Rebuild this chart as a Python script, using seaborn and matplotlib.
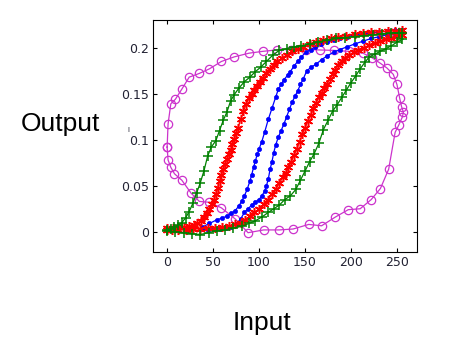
import matplotlib
matplotlib.use('Agg')
import matplotlib.pyplot as plt
import seaborn as sb

# Hysteresis loops (input 0..255 -> output)

# magenta circles, one closed loop
mag_x = [0, 1, 4, 9, 16, 24, 35, 46, 59, 73, 89, 104, 119, 135, 151, 166, 182, 198, 213, 223,
         232, 239, 246, 250, 253, 255, 257, 256, 252, 248, 241, 232, 222, 210, 197, 183, 168, 154, 137, 122,
         105, 88, 74, 59, 46, 35, 26, 16, 8, 4, 1, 0]
mag_y = [0.092, 0.117, 0.139, 0.144, 0.155, 0.168, 0.172, 0.177, 0.185, 0.190, 0.194, 0.196, 0.1975, 0.198, 0.198, 0.1975, 0.197, 0.196, 0.194, 0.189,
         0.183, 0.178, 0.171, 0.160, 0.145, 0.136, 0.130, 0.125, 0.116, 0.108, 0.068, 0.047, 0.035, 0.025, 0.024, 0.016, 0.0065, 0.008, 0.003, 0.002,
         0.002, -0.001, 0.014, 0.026, 0.032, 0.033, 0.042, 0.056, 0.063, 0.070, 0.078, 0.092]

# blue dots, rising and falling branch
blue_up_x = [38, 46, 54, 60, 65, 70, 74, 78, 81, 84, 87, 90, 92, 94, 96, 98, 100, 103, 106, 110,
             114, 118, 121, 124, 127, 131, 134, 138, 142, 146, 151, 156, 161, 167, 174, 181, 188, 196, 204, 213,
             222, 231, 240, 248, 255]
blue_up_y = [0.005, 0.009, 0.013, 0.015, 0.017, 0.020, 0.023, 0.028, 0.033, 0.039, 0.046, 0.055, 0.062, 0.070, 0.077, 0.084, 0.090, 0.098, 0.108, 0.122,
             0.134, 0.146, 0.155, 0.160, 0.165, 0.170, 0.174, 0.180, 0.185, 0.190, 0.195, 0.198, 0.201, 0.204, 0.206, 0.208, 0.210, 0.212, 0.214, 0.215,
             0.216, 0.217, 0.218, 0.219, 0.219]
blue_dn_x = [255, 247, 239, 231, 222, 213, 204, 196, 188, 181, 174, 168, 162, 157, 152, 148, 145, 142, 139, 136,
             133, 130, 127, 124, 121, 118, 116, 114, 112, 110, 108, 106, 103, 100, 96, 92, 88, 84, 80, 75,
             70, 64, 57, 50, 44, 38]
blue_dn_y = [0.218, 0.216, 0.214, 0.212, 0.210, 0.207, 0.204, 0.201, 0.198, 0.195, 0.191, 0.187, 0.182, 0.179, 0.175, 0.166, 0.160, 0.153, 0.147, 0.141,
             0.133, 0.125, 0.117, 0.110, 0.103, 0.094, 0.086, 0.076, 0.068, 0.057, 0.050, 0.044, 0.039, 0.035, 0.032, 0.029, 0.025, 0.021, 0.014, 0.008,
             0.005, 0.004, 0.003, 0.003, 0.002, 0.003]

# red stars
red_up_x = [0, 6, 12, 18, 24, 29, 33, 37, 40, 43, 46, 49, 51, 53, 55, 57, 59, 61, 63, 65,
            67, 69, 71, 73, 75, 77, 80, 83, 86, 89, 92, 95, 98, 101, 104, 108, 112, 116, 120, 125,
            130, 136, 142, 148, 155, 162, 170, 178, 186, 195, 204, 213, 222, 231, 240, 248, 255]
red_up_y = [0.004, 0.004, 0.005, 0.005, 0.006, 0.007, 0.009, 0.012, 0.016, 0.020, 0.025, 0.030, 0.035, 0.041, 0.048, 0.055, 0.062, 0.068, 0.074, 0.079,
            0.084, 0.089, 0.095, 0.101, 0.107, 0.113, 0.122, 0.131, 0.139, 0.145, 0.150, 0.154, 0.158, 0.163, 0.167, 0.172, 0.177, 0.181, 0.185, 0.189,
            0.192, 0.196, 0.199, 0.201, 0.204, 0.206, 0.208, 0.210, 0.212, 0.213, 0.215, 0.216, 0.217, 0.217, 0.218, 0.218, 0.219]
red_dn_x = [255, 250, 244, 238, 232, 226, 220, 214, 208, 203, 198, 194, 190, 186, 183, 180, 177, 174, 171, 168,
            165, 162, 159, 156, 153, 150, 147, 144, 141, 138, 135, 132, 129, 126, 122, 118, 114, 110, 105, 100,
            95, 90, 85, 80, 74, 67, 60, 52, 44, 36, 28, 20, 12, 5, 0]
red_dn_y = [0.214, 0.213, 0.211, 0.209, 0.207, 0.205, 0.203, 0.200, 0.198, 0.195, 0.192, 0.189, 0.185, 0.181, 0.176, 0.171, 0.166, 0.161, 0.156, 0.151,
            0.146, 0.140, 0.134, 0.127, 0.120, 0.113, 0.106, 0.098, 0.090, 0.083, 0.076, 0.070, 0.064, 0.059, 0.053, 0.046, 0.041, 0.035, 0.030, 0.025,
            0.021, 0.017, 0.013, 0.010, 0.008, 0.006, 0.005, 0.004, 0.004, 0.003, 0.003, 0.002, 0.002, 0.002, 0.002]

# green plus signs
green_up_x = [0, 4, 8, 12, 16, 20, 24, 28, 32, 36, 40, 44, 48, 53, 57, 61, 65, 69, 73, 78,
              84, 90, 96, 102, 108, 115, 122, 130, 138, 146, 155, 164, 174, 184, 194, 204, 214, 224, 234, 244,
              252, 256]
green_up_y = [0.002, 0.003, 0.005, 0.007, 0.010, 0.015, 0.022, 0.031, 0.042, 0.053, 0.066, 0.082, 0.092, 0.099, 0.110, 0.121, 0.130, 0.142, 0.149, 0.156,
              0.163, 0.168, 0.174, 0.179, 0.185, 0.192, 0.197, 0.199, 0.201, 0.202, 0.204, 0.206, 0.208, 0.210, 0.211, 0.212, 0.213, 0.214, 0.215, 0.216,
              0.216, 0.216]
green_dn_x = [256, 250, 244, 238, 232, 226, 220, 215, 210, 205, 200, 195, 190, 185, 180, 175, 170, 165, 160, 155,
              150, 145, 140, 134, 128, 122, 116, 110, 103, 96, 89, 81, 72, 63, 54, 45, 36, 27, 18, 9,
              0]
green_dn_y = [0.209, 0.206, 0.202, 0.199, 0.196, 0.193, 0.190, 0.184, 0.177, 0.169, 0.162, 0.154, 0.146, 0.138, 0.131, 0.121, 0.111, 0.096, 0.085, 0.076,
              0.066, 0.056, 0.046, 0.039, 0.035, 0.029, 0.025, 0.021, 0.016, 0.012, 0.009, 0.006, 0.004, 0.002, 0.001, -0.001, -0.003, -0.002, -0.001, 0.000,
              0.001]

xticks = [0, 50, 100, 150, 200, 250]
yticks = [0, 0.05, 0.1, 0.15, 0.2]
ytick_labels = ['0', '0.05', '0.1', '0.15', '0.2']

fig = plt.figure(figsize=(4.51, 3.58), dpi=100)
ax = fig.add_axes([0.339, 0.296, 0.586, 0.648])

MAG, BLUE, RED, GREEN = '#cc33cc', '#0000ff', '#ff0000', '#008000'
asterisk = (6, 2, 0)  # line-drawn star like matlab '*'

# magenta loop drawn first, the others on top
sb.lineplot(x=mag_x, y=mag_y, sort=False, estimator=None, ax=ax, color=MAG,
            lw=0.9, marker='o', markersize=6, markerfacecolor='none',
            markeredgecolor=MAG, markeredgewidth=0.9)

for bx, by in [(blue_up_x, blue_up_y), (blue_dn_x, blue_dn_y)]:
    sb.lineplot(x=bx, y=by, sort=False, estimator=None, ax=ax, color=BLUE,
                lw=0.9, marker='o', markersize=3, markeredgecolor=BLUE,
                markeredgewidth=0.5)

for rx, ry in [(red_up_x, red_up_y), (red_dn_x, red_dn_y)]:
    sb.lineplot(x=rx, y=ry, sort=False, estimator=None, ax=ax, color=RED,
                lw=0.9, marker=asterisk, markersize=6.5, markeredgewidth=1.1,
                markeredgecolor=RED)

for gx, gy in [(green_up_x, green_up_y), (green_dn_x, green_dn_y)]:
    sb.lineplot(x=gx, y=gy, sort=False, estimator=None, ax=ax, color=GREEN,
                lw=0.9, marker='+', markersize=7, markeredgewidth=1.1,
                markeredgecolor=GREEN)

ax.set_xlim(-15.5, 272)
ax.set_ylim(-0.022, 0.230)
ax.set_xticks(xticks)
ax.set_xticklabels([str(t) for t in xticks])
ax.set_yticks(yticks)
ax.set_yticklabels(ytick_labels)
ax.tick_params(direction='in', top=True, right=True, length=3, width=0.8,
               labelsize=9, labelcolor='#222233', pad=2.5)
for s in ax.spines.values():
    s.set_linewidth(0.8)
    s.set_color('black')
ax.set_xlabel('')
ax.set_ylabel('')

fig.text(0.133, 0.653, 'Output', fontsize=19, family='Liberation Sans',
         ha='center', va='center')
fig.text(0.580, 0.098, 'Input', fontsize=19, family='Liberation Sans',
         ha='center', va='center')
fig.text(0.284, 0.638, 'I', fontsize=5, ha='center', va='center', color='#222233')

plt.savefig('out.png', dpi=100)
